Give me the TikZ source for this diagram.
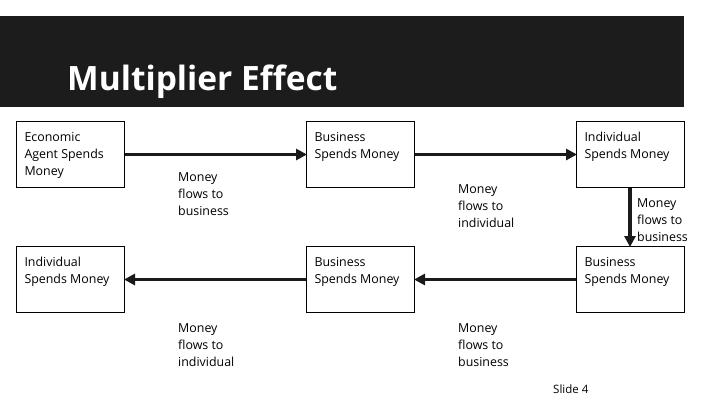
\documentclass[tikz,border=0pt]{standalone}
\usepackage{fontspec}
\setmainfont{Open Sans}[Ligatures=NoCommon]
\usetikzlibrary{arrows.meta}
\definecolor{barblack}{HTML}{1C1C1C}
\definecolor{inkblack}{HTML}{1A1A1A}
\tikzset{
  box/.style={draw=black, line width=1pt, inner sep=0pt, minimum width=108pt, minimum height=66pt, anchor=north west},
  flow/.style={draw=inkblack, line width=3.2pt, -{Triangle[length=11pt,width=11pt]}, shorten >=-1pt},
  lbl/.style={anchor=north west, inner sep=0pt, font=\fontsize{12.4}{17}\selectfont, text=black},
}
\newcommand{\boxtext}[1]{\parbox[c][66pt][t]{92pt}{\fontsize{12.4}{17}\selectfont\raggedright\rule{0pt}{20pt}#1}}
\newcommand{\lbltext}[1]{\parbox[t]{90pt}{\raggedright\rule{0pt}{12pt}#1}}
\begin{document}
\begin{tikzpicture}[x=1pt,y=-1pt]
\useasboundingbox (0,0) rectangle (720,405);
\fill[white] (0,0) rectangle (720,405);
\fill[barblack] (0,16) rectangle (684,107);
\node[anchor=base west, inner sep=0pt, text=white, font=\fontsize{33.5}{40}\selectfont\bfseries] (title) at (67,90) {Multiplier Effect};

\node[box] (a) at (16,121) {\boxtext{Economic\\Agent Spends\\Money}};
\node[box] (b) at (306,121) {\boxtext{Business\\Spends Money}};
\node[box] (c) at (576,121) {\boxtext{Individual\\Spends Money}};
\node[box] (d) at (576,246) {\boxtext{Business\\Spends Money}};
\node[box] (e) at (306,246) {\boxtext{Business\\Spends Money}};
\node[box] (f) at (16,246) {\boxtext{Individual\\Spends Money}};

\draw[flow] (a.east) -- (b.west);
\draw[flow] (b.east) -- (c.west);
\draw[flow] (c.south -| 630,0) -- (d.north -| 630,0);
\draw[flow] (d.west) -- (e.east);
\draw[flow] (e.west) -- (f.east);

\node[lbl] (l1) at (178,169) {\lbltext{Money\\flows to\\business}};
\node[lbl] (l2) at (458,181) {\lbltext{Money\\flows to\\individual}};
\node[lbl] (l3) at (637,195) {\lbltext{Money\\flows to\\business}};
\node[lbl] (l4) at (178,320) {\lbltext{Money\\flows to\\individual}};
\node[lbl] (l5) at (458,320) {\lbltext{Money\\flows to\\business}};

\node[anchor=base west, inner sep=0pt, font=\fontsize{11.5}{13}\selectfont] (slide) at (553,393) {Slide 4};
\end{tikzpicture}
\end{document}
